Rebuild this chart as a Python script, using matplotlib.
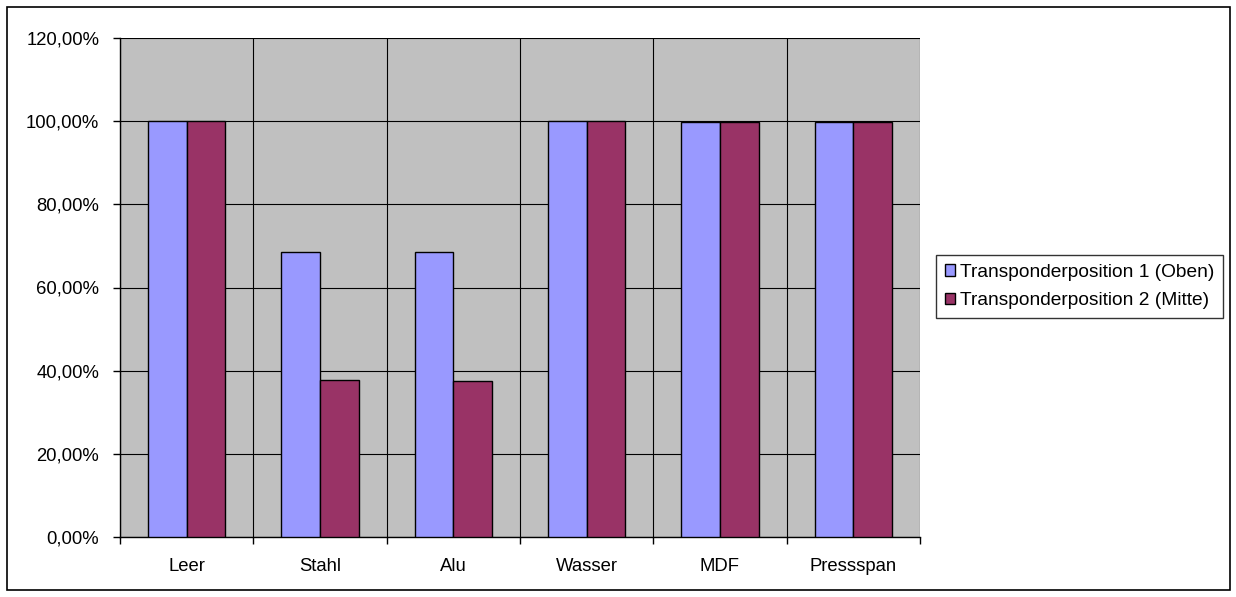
import numpy as np
import matplotlib.pyplot as plt
from matplotlib.ticker import FuncFormatter, MultipleLocator, FixedLocator

plt.rcParams['font.family'] = ['Liberation Sans', 'DejaVu Sans']

# Messwerte je Material
kategorien = ["Leer", "Stahl", "Alu", "Wasser", "MDF", "Pressspan"]
pos_oben = [100.0, 68.5, 68.5, 100.0, 99.7, 99.9]
pos_mitte = [100.0, 37.8, 37.4, 100.0, 99.7, 99.7]
serien = ["Transponderposition 1 (Oben)", "Transponderposition 2 (Mitte)"]

fig = plt.figure(figsize=(12.36, 5.97), dpi=100)
# Rahmen um das ganze Diagramm
fig.patches.append(plt.Rectangle((7 / 1236, 7 / 597), 1223 / 1236, 583 / 597,
                                 transform=fig.transFigure, fill=False,
                                 edgecolor="black", linewidth=1.2))

ax = fig.add_axes([120 / 1236, 1 - 537 / 597, 800 / 1236, 499 / 597])
ax.set_facecolor("#C0C0C0")

x = np.arange(len(kategorien))
breite = 0.29
ax.bar(x - breite / 2, pos_oben, breite, color="#9999FF", edgecolor="black",
       linewidth=1, label=serien[0], zorder=3)
ax.bar(x + breite / 2, pos_mitte, breite, color="#993366", edgecolor="black",
       linewidth=1, label=serien[1], zorder=3)

ax.set_xlim(-0.5, len(kategorien) - 0.5)
ax.set_ylim(0, 120)
ax.yaxis.set_major_locator(MultipleLocator(20))
ax.yaxis.set_major_formatter(FuncFormatter(lambda v, p: f"{v:.2f}%".replace(".", ",")))

ax.set_xticks(x)
ax.set_xticklabels(kategorien)
ax.xaxis.set_minor_locator(FixedLocator(np.arange(-0.5, len(kategorien), 1)))
ax.tick_params(axis="x", which="major", length=0, pad=15, labelsize=13.3)
ax.tick_params(axis="x", which="minor", length=5, width=1)
ax.tick_params(axis="y", length=5, width=1, labelsize=13.3, pad=10)

ax.grid(axis="y", color="black", linewidth=0.8, zorder=1)
ax.grid(axis="x", which="minor", color="black", linewidth=0.8, zorder=1)

for side in ["top", "right"]:
    ax.spines[side].set_visible(False)
for side in ["left", "bottom"]:
    ax.spines[side].set_linewidth(1)

leg = fig.legend(loc="upper left", bbox_to_anchor=(936 / 1236, 1 - 255 / 597),
                 fontsize=13.8, frameon=True, fancybox=False, edgecolor="black",
                 handlelength=0.55, handleheight=0.55, handletextpad=0.25,
                 borderpad=0.45, labelspacing=0.6, borderaxespad=0)
leg.get_frame().set_linewidth(1)

fig.savefig("out.png", dpi=100)
